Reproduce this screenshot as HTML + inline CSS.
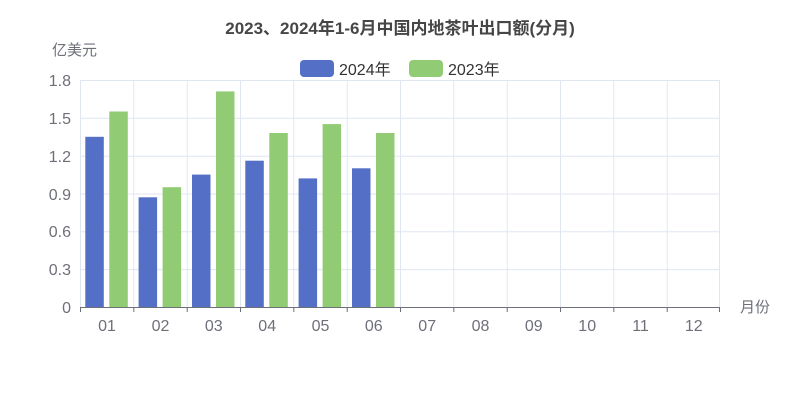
<!DOCTYPE html>
<html><head><meta charset="utf-8"><style>body{margin:0;background:#fff}svg{display:block;font-family:"Liberation Sans","Noto Sans CJK SC",sans-serif}</style></head>
<body>
<svg width="800" height="400" viewBox="0 0 800 400">
<text x="400" y="34" text-anchor="middle" font-size="17" font-weight="bold" fill="#464646">2023、2024年1-6月中国内地茶叶出口额(分月)</text>
<text x="52" y="55" font-size="15" fill="#6e7079">亿美元</text>
<rect x="300" y="60" width="34" height="17" rx="4" fill="#5470c6"/>
<text x="339" y="75" font-size="16" fill="#333">2024年</text>
<rect x="409" y="60" width="34" height="17" rx="4" fill="#91cc75"/>
<text x="448" y="75" font-size="16" fill="#333">2023年</text>
<g stroke="#e0e6f1" stroke-width="1">
<line x1="80" y1="80.5" x2="720" y2="80.5"/><line x1="80" y1="118.3" x2="720" y2="118.3"/><line x1="80" y1="156.2" x2="720" y2="156.2"/><line x1="80" y1="194" x2="720" y2="194"/><line x1="80" y1="231.8" x2="720" y2="231.8"/><line x1="80" y1="269.6" x2="720" y2="269.6"/>
<line x1="80.5" y1="80" x2="80.5" y2="307"/><line x1="133.8" y1="80" x2="133.8" y2="307"/><line x1="187.2" y1="80" x2="187.2" y2="307"/><line x1="240.5" y1="80" x2="240.5" y2="307"/><line x1="293.8" y1="80" x2="293.8" y2="307"/><line x1="347.2" y1="80" x2="347.2" y2="307"/><line x1="400.5" y1="80" x2="400.5" y2="307"/><line x1="453.8" y1="80" x2="453.8" y2="307"/><line x1="507.2" y1="80" x2="507.2" y2="307"/><line x1="560.5" y1="80" x2="560.5" y2="307"/><line x1="613.8" y1="80" x2="613.8" y2="307"/><line x1="667.2" y1="80" x2="667.2" y2="307"/><line x1="719.5" y1="80" x2="719.5" y2="307"/>
</g>
<g font-size="16" fill="#6e7079" text-anchor="end">
<text x="71" y="86">1.8</text><text x="71" y="124">1.5</text><text x="71" y="162">1.2</text><text x="71" y="200">0.9</text><text x="71" y="237">0.6</text><text x="71" y="275">0.3</text><text x="71" y="313">0</text>
</g>
<g>
<rect x="85.3" y="136.8" width="18.5" height="170.2" fill="#5470c6"/><rect x="109.3" y="111.5" width="18.5" height="195.5" fill="#91cc75"/>
<rect x="138.6" y="197.3" width="18.5" height="109.7" fill="#5470c6"/><rect x="162.6" y="187.2" width="18.5" height="119.8" fill="#91cc75"/>
<rect x="192" y="174.6" width="18.5" height="132.4" fill="#5470c6"/><rect x="216" y="91.4" width="18.5" height="215.6" fill="#91cc75"/>
<rect x="245.3" y="160.7" width="18.5" height="146.3" fill="#5470c6"/><rect x="269.3" y="133" width="18.5" height="174" fill="#91cc75"/>
<rect x="298.6" y="178.4" width="18.5" height="128.6" fill="#5470c6"/><rect x="322.6" y="124.1" width="18.5" height="182.9" fill="#91cc75"/>
<rect x="352" y="168.3" width="18.5" height="138.7" fill="#5470c6"/><rect x="376" y="133" width="18.5" height="174" fill="#91cc75"/>
</g>
<g stroke="#6e7079" stroke-width="1">
<line x1="80" y1="307.5" x2="720" y2="307.5"/>
<line x1="80.5" y1="307" x2="80.5" y2="312"/><line x1="133.8" y1="307" x2="133.8" y2="312"/><line x1="187.2" y1="307" x2="187.2" y2="312"/><line x1="240.5" y1="307" x2="240.5" y2="312"/><line x1="293.8" y1="307" x2="293.8" y2="312"/><line x1="347.2" y1="307" x2="347.2" y2="312"/><line x1="400.5" y1="307" x2="400.5" y2="312"/><line x1="453.8" y1="307" x2="453.8" y2="312"/><line x1="507.2" y1="307" x2="507.2" y2="312"/><line x1="560.5" y1="307" x2="560.5" y2="312"/><line x1="613.8" y1="307" x2="613.8" y2="312"/><line x1="667.2" y1="307" x2="667.2" y2="312"/><line x1="719.5" y1="307" x2="719.5" y2="312"/>
</g>
<g font-size="16" fill="#6e7079" text-anchor="middle">
<text x="107" y="331">01</text><text x="160.5" y="331">02</text><text x="213.8" y="331">03</text><text x="267.2" y="331">04</text><text x="320.5" y="331">05</text><text x="373.8" y="331">06</text><text x="427.2" y="331">07</text><text x="480.5" y="331">08</text><text x="533.8" y="331">09</text><text x="587.2" y="331">10</text><text x="640.5" y="331">11</text><text x="693.8" y="331">12</text>
</g>
<text x="740" y="312" font-size="15" fill="#6e7079">月份</text>
</svg>
</body></html>
